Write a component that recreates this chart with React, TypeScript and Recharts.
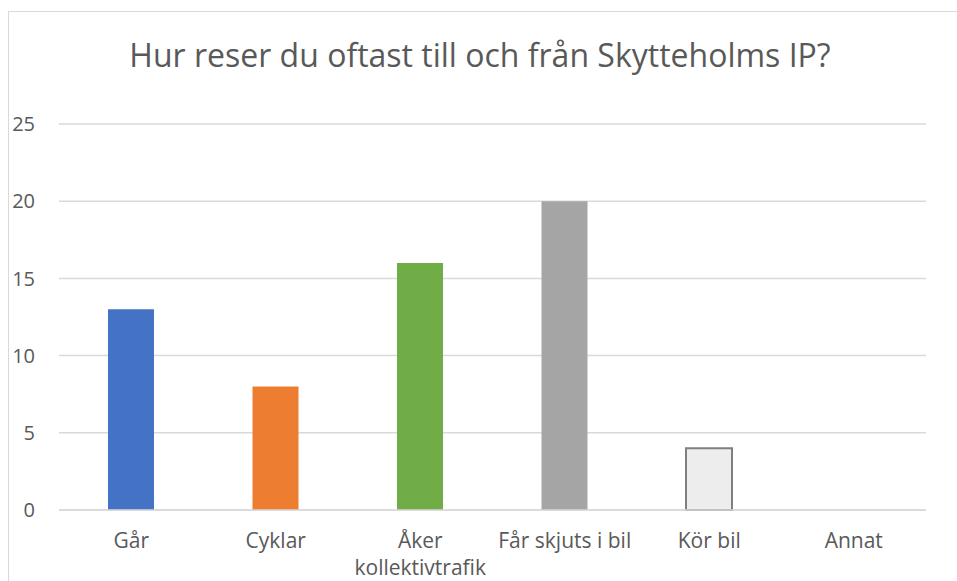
import React from "react";
import { BarChart, Bar, XAxis, YAxis, CartesianGrid, Cell } from "recharts";

const categories = ["Går", "Cyklar", "Åker kollektivtrafik", "Får skjuts i bil", "Kör bil", "Annat"];
const answers = [13, 8, 16, 20, 4, 0];
const yTicks = [0, 5, 10, 15, 20, 25];

const barColors = ["#4472C4", "#ED7D31", "#70AD47", "#A5A5A5", "#EDEDED", "#FFC000"];
const barStrokes = ["none", "none", "none", "none", "#7F7F7F", "none"];

const data = categories.map((name, i) => ({ name, value: answers[i] }));

const FONT = "'Open Sans', sans-serif";
const LABEL_SIZE = 21;
const LABEL_WIDTH = 140;

// wrap a label into lines that fit the category band
const ctx = typeof document !== "undefined" ? document.createElement("canvas").getContext("2d") : null;
const wrapLabel = (label: string) => {
  if (!ctx) return [label];
  ctx.font = `${LABEL_SIZE}px ${FONT}`;
  const lines: string[] = [];
  let line = "";
  for (const word of label.split(" ")) {
    const test = line ? line + " " + word : word;
    if (line && ctx.measureText(test).width > LABEL_WIDTH) {
      lines.push(line);
      line = word;
    } else {
      line = test;
    }
  }
  if (line) lines.push(line);
  return lines;
};

const CategoryTick = (props: any) => {
  const { x, y, payload } = props;
  const lines = wrapLabel(String(payload.value));
  return (
    <text x={x} y={y} textAnchor="middle" fill="#595959" fontSize={LABEL_SIZE} fontFamily={FONT}>
      {lines.map((l, i) => (
        <tspan key={i} x={x} dy={i === 0 ? "0.71em" : 27}>
          {l}
        </tspan>
      ))}
    </text>
  );
};

const App = () => {
  return (
    <div style={{ position: "absolute", left: 0, top: 0, width: 957, height: 581, background: "#fff", overflow: "hidden" }}>
      <div
        style={{
          position: "absolute",
          left: 8,
          top: 11,
          width: 1000,
          height: 700,
          border: "1px solid #D9D9D9",
          boxSizing: "border-box",
        }}
      />
      <div
        style={{
          position: "absolute",
          left: 0,
          top: 33,
          width: 960,
          textAlign: "center",
          fontFamily: FONT,
          fontSize: 32,
          color: "#595959",
        }}
      >
        Hur reser du oftast till och från Skytteholms IP?
      </div>
      <div style={{ position: "absolute", left: 0, top: 0 }}>
        <BarChart
          width={957}
          height={581}
          data={data}
          margin={{ top: 124, right: 31, left: 0, bottom: 11 }}
        >
          <CartesianGrid vertical={false} stroke="#D9D9D9" strokeWidth={1.5} />
          <XAxis
            dataKey="name"
            axisLine={{ stroke: "#D9D9D9", strokeWidth: 1.5 }}
            tickLine={false}
            tick={<CategoryTick />}
            tickMargin={17}
            height={60}
            interval={0}
          />
          <YAxis
            domain={[0, 25]}
            ticks={yTicks}
            width={59}
            axisLine={false}
            tickLine={false}
            tickSize={0}
            tickMargin={24}
            tick={{ fill: "#595959", fontSize: 20, fontFamily: FONT }}
          />
          <Bar dataKey="value" barSize={46} isAnimationActive={false}>
            {data.map((d, i) => (
              <Cell key={d.name} fill={barColors[i]} stroke={barStrokes[i]} strokeWidth={2} />
            ))}
          </Bar>
        </BarChart>
      </div>
    </div>
  );
};

export default App;
